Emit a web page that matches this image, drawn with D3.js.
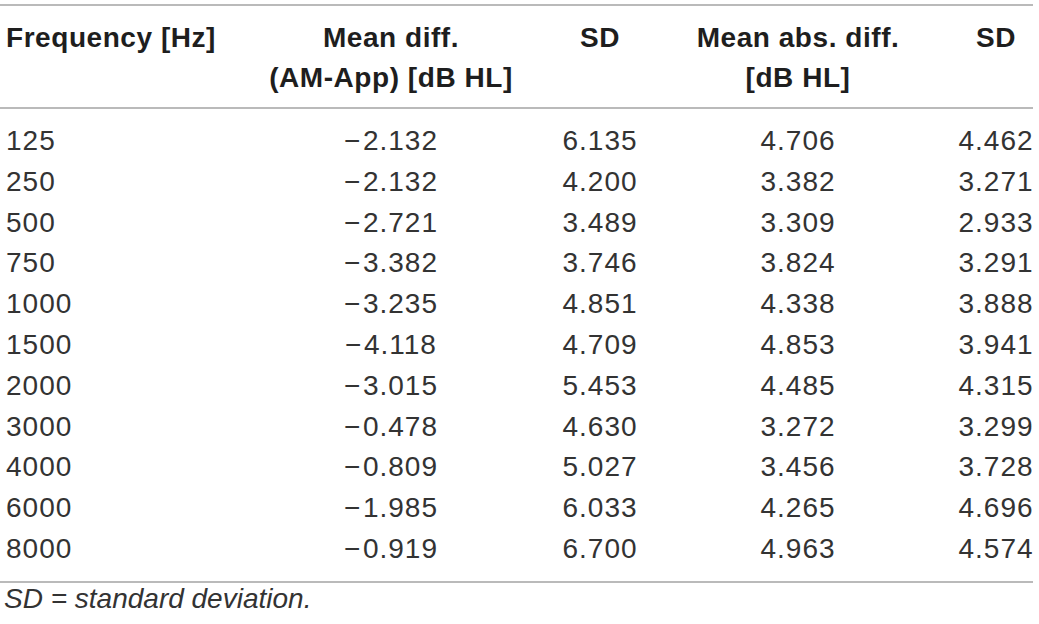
<!DOCTYPE html>
<html lang="en">
<head>
  <meta charset="UTF-8">
  <title>Mean differences AM vs App by frequency</title>
  <script src="https://d3js.org/d3.v7.min.js"></script>
  <style>
    body {
      margin: 0;
      background: #fff;
    }
    svg text {
      font-family: "Liberation Sans", Arial, sans-serif;
    }
  </style>
</head>
<body>
  <div id="table"></div>

  <script>
    // table content
    const headers = [
      ["Frequency [Hz]"],
      ["Mean diff.", "(AM-App) [dB HL]"],
      ["SD"],
      ["Mean abs. diff.", "[dB HL]"],
      ["SD"]
    ];
    const frequencies = ["125", "250", "500", "750", "1000", "1500", "2000", "3000", "4000", "6000", "8000"];
    const meanDiff = ["−2.132", "−2.132", "−2.721", "−3.382", "−3.235", "−4.118", "−3.015", "−0.478", "−0.809", "−1.985", "−0.919"];
    const sdDiff = ["6.135", "4.200", "3.489", "3.746", "4.851", "4.709", "5.453", "4.630", "5.027", "6.033", "6.700"];
    const meanAbsDiff = ["4.706", "3.382", "3.309", "3.824", "4.338", "4.853", "4.485", "3.272", "3.456", "4.265", "4.963"];
    const sdAbsDiff = ["4.462", "3.271", "2.933", "3.291", "3.888", "3.941", "4.315", "3.299", "3.728", "4.696", "4.574"];
    const footnote = "SD = standard deviation.";

    const columns = [frequencies, meanDiff, sdDiff, meanAbsDiff, sdAbsDiff];

    const width = 1039, height = 624;
    const fontSize = 28;

    const svg = d3.select("#table")
      .append("svg")
      .attr("width", width)
      .attr("height", height);

    // column anchors: first column left aligned, the rest centred
    const colX = d3.scaleOrdinal()
      .domain(d3.range(columns.length))
      .range([6, 391, 600, 798, 996]);
    const colAnchor = i => i === 0 ? "start" : "middle";

    // baselines of the body rows
    const rowY = d3.scaleLinear()
      .domain([0, frequencies.length - 1])
      .range([150, 558]);

    // header lines
    const headY = d3.scaleLinear()
      .domain([0, 1])
      .range([47, 87]);

    // rules
    const rules = [5, 108, 582];
    svg.selectAll("line.rule")
      .data(rules)
      .join("line")
      .attr("class", "rule")
      .attr("x1", 0)
      .attr("x2", 1033)
      .attr("y1", d => d)
      .attr("y2", d => d)
      .attr("stroke", "#a3a3a3")
      .attr("stroke-width", 1.6);

    // header
    const head = svg.selectAll("g.head")
      .data(headers)
      .join("g")
      .attr("class", "head");

    head.selectAll("text")
      .data((d, i) => d.map(t => ({ t, col: i })))
      .join("text")
      .attr("x", d => colX(d.col))
      .attr("y", (d, j) => headY(j))
      .attr("text-anchor", d => colAnchor(d.col))
      .attr("font-size", fontSize)
      .attr("font-weight", "bold")
      .attr("letter-spacing", 0.55)
      .attr("fill", "#1e1e1e")
      .text(d => d.t);

    // body
    const col = svg.selectAll("g.col")
      .data(columns)
      .join("g")
      .attr("class", "col");

    const cells = col.selectAll("text")
      .data((d, i) => d.map(v => ({ v, col: i })))
      .join("text")
      .attr("x", d => colX(d.col))
      .attr("y", (d, j) => rowY(j))
      .attr("text-anchor", d => colAnchor(d.col))
      .attr("font-size", fontSize)
      .attr("letter-spacing", 1)
      .attr("fill", "#333");

    // the minus sign sits a bit further from the digits, as in the original
    cells.filter(d => d.v.startsWith("−"))
      .append("tspan")
      .attr("letter-spacing", 2.5)
      .text("−");
    cells.append("tspan")
      .text(d => d.v.replace("−", ""));

    // footnote
    svg.append("text")
      .attr("x", 4)
      .attr("y", 608)
      .attr("font-size", fontSize)
      .attr("font-style", "italic")
      .attr("fill", "#333")
      .text(footnote);
  </script>
</body>
</html>
